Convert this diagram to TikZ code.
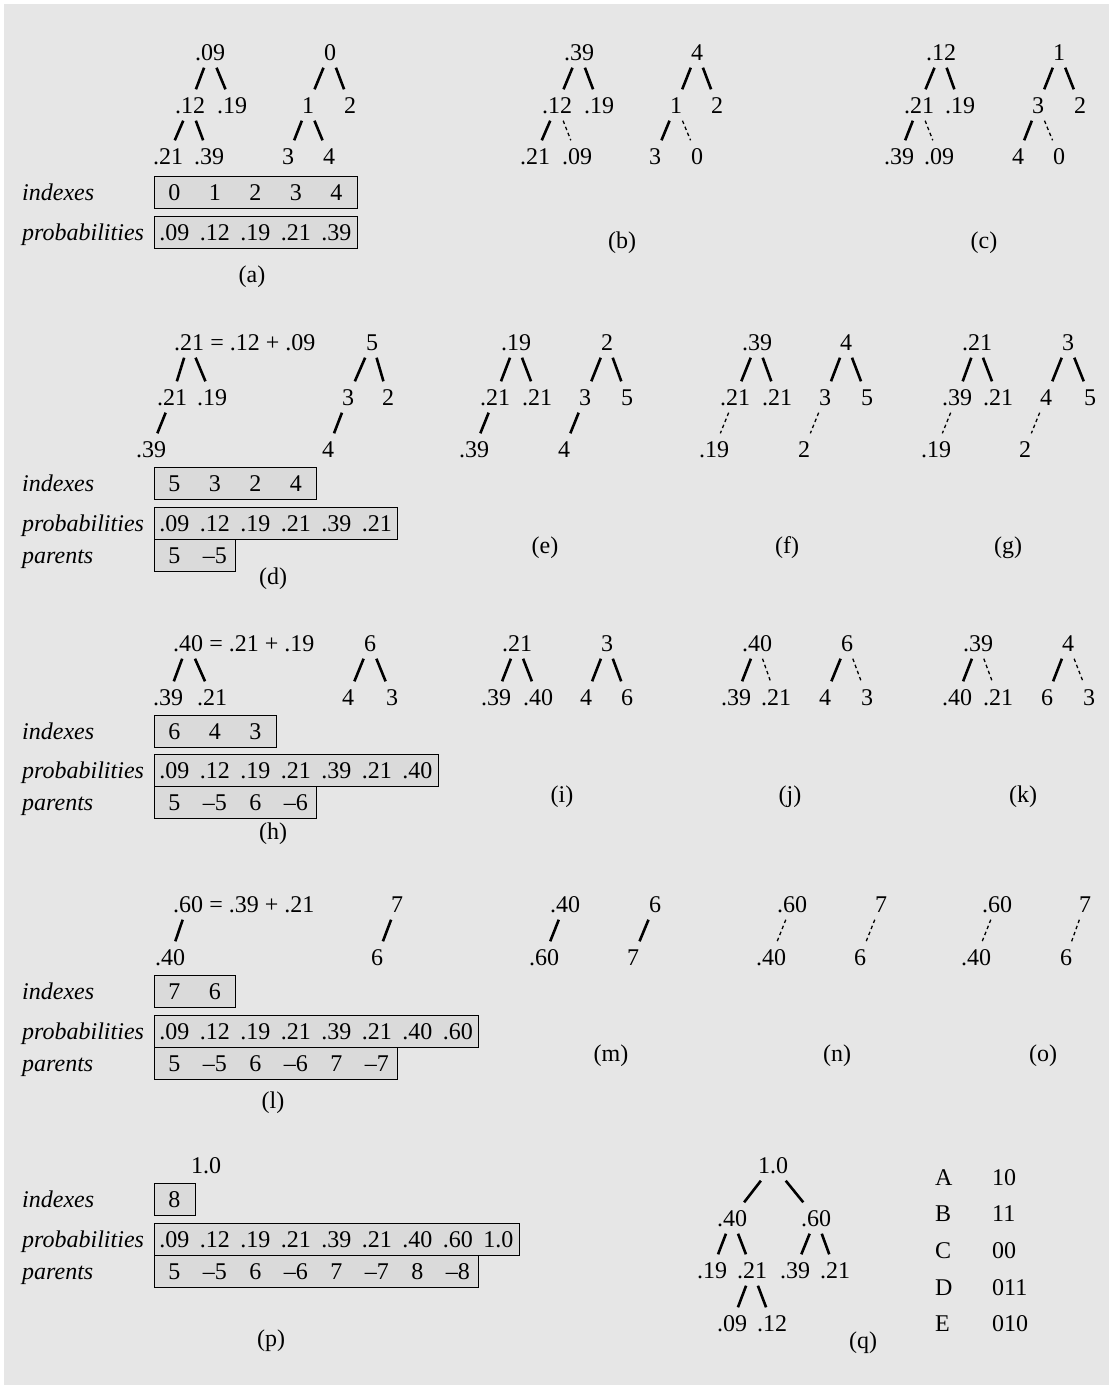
\documentclass[tikz,border=0pt]{standalone}
\usepackage{fontspec}
\setmainfont{Liberation Serif}
\newcommand\myfs{\fontsize{24}{28}\selectfont}
\definecolor{bgc}{RGB}{230,230,230}
\definecolor{boxfill}{RGB}{218,218,218}
\tikzset{
  val/.style={font=\myfs, inner sep=0pt, text height=16pt, text depth=0pt, minimum height=31pt, minimum width=20pt},
  sol/.style={line width=2.6pt},
  dsh/.style={line width=1.3pt, dash pattern=on 3.5pt off 3pt},
  sublbl/.style={font=\myfs, inner sep=0pt},
  abox/.style={draw, line width=1.3pt, fill=boxfill, inner sep=0pt, minimum height=32pt, anchor=north west},
  rowlbl/.style={font=\myfs\itshape, inner sep=0pt, anchor=base west},
  eqtxt/.style={font=\myfs, inner sep=0pt, anchor=base west}
}
% #1 name, #2 top y, #3 number of cells, #4 values
\newcommand\arrrow[4]{%
  \node[abox, minimum width={40.5*#3}] (#1) at (154,#2) {};
  \foreach \t [count=\i] in {#4} \node[val] (#1\i) at ({154+40.5*\i-20.25},{#2+16}) {\t};
}
\begin{document}
\begin{tikzpicture}[x=1pt,y=-1pt]
\useasboundingbox (0,0) rectangle (1109,1385);
\fill[white] (0,0) rectangle (1109,1385);
\fill[bgc] (4,4) rectangle (1109,1385);

% ---------------- (a)
\node[val] (a0) at (210,52) {.09};
\node[val] (a1) at (190,105) {.12};
\node[val] (a2) at (232,105) {.19};
\node[val] (a3) at (168,156) {.21};
\node[val] (a4) at (209,156) {.39};
\draw[sol] (a0)--(a1) (a0)--(a2) (a1)--(a3) (a1)--(a4);
\node[val] (ai0) at (330,52) {0};
\node[val] (ai1) at (308,105) {1};
\node[val] (ai2) at (350,105) {2};
\node[val] (ai3) at (288,156) {3};
\node[val] (ai4) at (329,156) {4};
\draw[sol] (ai0)--(ai1) (ai0)--(ai2) (ai1)--(ai3) (ai1)--(ai4);
\arrrow{aI}{176}{5}{0,1,2,3,4}
\arrrow{aP}{216}{5}{.09,.12,.19,.21,.39}
\node[rowlbl] (aIl) at (22,200) {indexes};
\node[rowlbl] (aPl) at (22,240) {probabilities};
\node[sublbl] (la) at (252,277) {(a)};

% ---------------- (b)
\node[val] (b0) at (579,52) {.39};
\node[val] (b1) at (557,105) {.12};
\node[val] (b2) at (599,105) {.19};
\node[val] (b3) at (535,156) {.21};
\node[val] (b4) at (577,156) {.09};
\draw[sol] (b0)--(b1) (b0)--(b2) (b1)--(b3);
\draw[dsh] (b1)--(b4);
\node[val] (bi0) at (697,52) {4};
\node[val] (bi1) at (676,105) {1};
\node[val] (bi2) at (717,105) {2};
\node[val] (bi3) at (655,156) {3};
\node[val] (bi4) at (697,156) {0};
\draw[sol] (bi0)--(bi1) (bi0)--(bi2) (bi1)--(bi3);
\draw[dsh] (bi1)--(bi4);
\node[sublbl] (lb) at (622,243) {(b)};

% ---------------- (c)
\node[val] (c0) at (941,52) {.12};
\node[val] (c1) at (919,105) {.21};
\node[val] (c2) at (960,105) {.19};
\node[val] (c3) at (899,156) {.39};
\node[val] (c4) at (939,156) {.09};
\draw[sol] (c0)--(c1) (c0)--(c2) (c1)--(c3);
\draw[dsh] (c1)--(c4);
\node[val] (ci0) at (1059,52) {1};
\node[val] (ci1) at (1038,105) {3};
\node[val] (ci2) at (1080,105) {2};
\node[val] (ci3) at (1018,156) {4};
\node[val] (ci4) at (1059,156) {0};
\draw[sol] (ci0)--(ci1) (ci0)--(ci2) (ci1)--(ci3);
\draw[dsh] (ci1)--(ci4);
\node[sublbl] (lc) at (984,243) {(c)};

% ---------------- (d)
\node[val] (d0) at (189,342) {.21};
\node[eqtxt] (d0eq) at (d0.base east) {\ = .12 + .09};
\node[val] (d1) at (172,397) {.21};
\node[val] (d2) at (212,397) {.19};
\node[val] (d3) at (151,449) {.39};
\draw[sol] (d0)--(d1) (d0)--(d2) (d1)--(d3);
\node[val] (di0) at (372,342) {5};
\node[val] (di1) at (348,397) {3};
\node[val] (di2) at (388,397) {2};
\node[val] (di3) at (328,449) {4};
\draw[sol] (di0)--(di1) (di0)--(di2) (di1)--(di3);
\arrrow{dI}{467}{4}{5,3,2,4}
\arrrow{dP}{507}{6}{.09,.12,.19,.21,.39,.21}
\arrrow{dA}{539}{2}{5,–5}
\node[rowlbl] (dIl) at (22,491) {indexes};
\node[rowlbl] (dPl) at (22,531) {probabilities};
\node[rowlbl] (dAl) at (22,563) {parents};
\node[sublbl] (ld) at (273,579) {(d)};

% ---------------- (e)
\node[val] (e0) at (516,342) {.19};
\node[val] (e1) at (495,397) {.21};
\node[val] (e2) at (537,397) {.21};
\node[val] (e3) at (474,449) {.39};
\draw[sol] (e0)--(e1) (e0)--(e2) (e1)--(e3);
\node[val] (ei0) at (607,342) {2};
\node[val] (ei1) at (585,397) {3};
\node[val] (ei2) at (627,397) {5};
\node[val] (ei3) at (564,449) {4};
\draw[sol] (ei0)--(ei1) (ei0)--(ei2) (ei1)--(ei3);
\node[sublbl] (le) at (545,548) {(e)};

% ---------------- (f)
\node[val] (f0) at (757,342) {.39};
\node[val] (f1) at (735,397) {.21};
\node[val] (f2) at (777,397) {.21};
\node[val] (f3) at (714,449) {.19};
\draw[sol] (f0)--(f1) (f0)--(f2);
\draw[dsh] (f1)--(f3);
\node[val] (fi0) at (846,342) {4};
\node[val] (fi1) at (825,397) {3};
\node[val] (fi2) at (867,397) {5};
\node[val] (fi3) at (804,449) {2};
\draw[sol] (fi0)--(fi1) (fi0)--(fi2);
\draw[dsh] (fi1)--(fi3);
\node[sublbl] (lf) at (787,548) {(f)};

% ---------------- (g)
\node[val] (g0) at (977,342) {.21};
\node[val] (g1) at (957,397) {.39};
\node[val] (g2) at (998,397) {.21};
\node[val] (g3) at (936,449) {.19};
\draw[sol] (g0)--(g1) (g0)--(g2);
\draw[dsh] (g1)--(g3);
\node[val] (gi0) at (1068,342) {3};
\node[val] (gi1) at (1046,397) {4};
\node[val] (gi2) at (1090,397) {5};
\node[val] (gi3) at (1025,449) {2};
\draw[sol] (gi0)--(gi1) (gi0)--(gi2);
\draw[dsh] (gi1)--(gi3);
\node[sublbl] (lg) at (1008,548) {(g)};

% ---------------- (h)
\node[val] (h0) at (188,643) {.40};
\node[eqtxt] (h0eq) at (h0.base east) {\ = .21 + .19};
\node[val] (h1) at (168,697) {.39};
\node[val] (h2) at (212,697) {.21};
\draw[sol] (h0)--(h1) (h0)--(h2);
\node[val] (hi0) at (370,643) {6};
\node[val] (hi1) at (348,697) {4};
\node[val] (hi2) at (392,697) {3};
\draw[sol] (hi0)--(hi1) (hi0)--(hi2);
\arrrow{hI}{715}{3}{6,4,3}
\arrrow{hP}{754}{7}{.09,.12,.19,.21,.39,.21,.40}
\arrrow{hA}{786}{4}{5,–5,6,–6}
\node[rowlbl] (hIl) at (22,739) {indexes};
\node[rowlbl] (hPl) at (22,778) {probabilities};
\node[rowlbl] (hAl) at (22,810) {parents};
\node[sublbl] (lh) at (273,834) {(h)};

% ---------------- (i)
\node[val] (i0) at (517,643) {.21};
\node[val] (i1) at (496,697) {.39};
\node[val] (i2) at (538,697) {.40};
\draw[sol] (i0)--(i1) (i0)--(i2);
\node[val] (ii0) at (607,643) {3};
\node[val] (ii1) at (586,697) {4};
\node[val] (ii2) at (627,697) {6};
\draw[sol] (ii0)--(ii1) (ii0)--(ii2);
\node[sublbl] (li) at (562,797) {(i)};

% ---------------- (j)
\node[val] (j0) at (757,643) {.40};
\node[val] (j1) at (736,697) {.39};
\node[val] (j2) at (776,697) {.21};
\draw[sol] (j0)--(j1);
\draw[dsh] (j0)--(j2);
\node[val] (ji0) at (847,643) {6};
\node[val] (ji1) at (825,697) {4};
\node[val] (ji2) at (867,697) {3};
\draw[sol] (ji0)--(ji1);
\draw[dsh] (ji0)--(ji2);
\node[sublbl] (lj) at (790,797) {(j)};

% ---------------- (k)
\node[val] (k0) at (978,643) {.39};
\node[val] (k1) at (957,697) {.40};
\node[val] (k2) at (998,697) {.21};
\draw[sol] (k0)--(k1);
\draw[dsh] (k0)--(k2);
\node[val] (ki0) at (1068,643) {4};
\node[val] (ki1) at (1047,697) {6};
\node[val] (ki2) at (1089,697) {3};
\draw[sol] (ki0)--(ki1);
\draw[dsh] (ki0)--(ki2);
\node[sublbl] (lk) at (1023,797) {(k)};

% ---------------- (l)
\node[val] (l0) at (188,904) {.60};
\node[eqtxt] (l0eq) at (l0.base east) {\ = .39 + .21};
\node[val] (l1) at (170,957) {.40};
\draw[sol] (l0)--(l1);
\node[val] (li0) at (397,904) {7};
\node[val] (li1) at (377,957) {6};
\draw[sol] (li0)--(li1);
\arrrow{lI}{975}{2}{7,6}
\arrrow{lP}{1015}{8}{.09,.12,.19,.21,.39,.21,.40,.60}
\arrrow{lA}{1047}{6}{5,–5,6,–6,7,–7}
\node[rowlbl] (lIl) at (22,999) {indexes};
\node[rowlbl] (lPl) at (22,1039) {probabilities};
\node[rowlbl] (lAl) at (22,1071) {parents};
\node[sublbl] (ll) at (273,1103) {(l)};

% ---------------- (m)
\node[val] (m0) at (565,904) {.40};
\node[val] (m1) at (544,957) {.60};
\draw[sol] (m0)--(m1);
\node[val] (mi0) at (655,904) {6};
\node[val] (mi1) at (633,957) {7};
\draw[sol] (mi0)--(mi1);
\node[sublbl] (lm) at (611,1056) {(m)};

% ---------------- (n)
\node[val] (n0) at (792,904) {.60};
\node[val] (n1) at (771,957) {.40};
\draw[dsh] (n0)--(n1);
\node[val] (ni0) at (881,904) {7};
\node[val] (ni1) at (860,957) {6};
\draw[dsh] (ni0)--(ni1);
\node[sublbl] (ln) at (837,1056) {(n)};

% ---------------- (o)
\node[val] (o0) at (997,904) {.60};
\node[val] (o1) at (976,957) {.40};
\draw[dsh] (o0)--(o1);
\node[val] (oi0) at (1085,904) {7};
\node[val] (oi1) at (1066,957) {6};
\draw[dsh] (oi0)--(oi1);
\node[sublbl] (lo) at (1043,1056) {(o)};

% ---------------- (p)
\node[val] (p0) at (206,1165) {1.0};
\arrrow{pI}{1183}{1}{8}
\arrrow{pP}{1223}{9}{.09,.12,.19,.21,.39,.21,.40,.60,1.0}
\arrrow{pA}{1255}{8}{5,–5,6,–6,7,–7,8,–8}
\node[rowlbl] (pIl) at (22,1207) {indexes};
\node[rowlbl] (pPl) at (22,1247) {probabilities};
\node[rowlbl] (pAl) at (22,1279) {parents};
\node[sublbl] (lp) at (271,1341) {(p)};

% ---------------- (q)
\node[val] (q0) at (773,1165) {1.0};
\node[val] (q1) at (732,1218) {.40};
\node[val] (q2) at (816,1218) {.60};
\node[val] (q3) at (712,1270) {.19};
\node[val] (q4) at (752,1270) {.21};
\node[val] (q5) at (795,1270) {.39};
\node[val] (q6) at (835,1270) {.21};
\node[val] (q7) at (732,1323) {.09};
\node[val] (q8) at (772,1323) {.12};
\draw[sol] (q0)--(q1) (q0)--(q2) (q1)--(q3) (q1)--(q4) (q2)--(q5) (q2)--(q6) (q4)--(q7) (q4)--(q8);
\node[sublbl] (lq) at (863,1343) {(q)};
\node[eqtxt] (cA) at (935,1185) {A};
\node[eqtxt] (cB) at (935,1221) {B};
\node[eqtxt] (cC) at (935,1258) {C};
\node[eqtxt] (cD) at (935,1295) {D};
\node[eqtxt] (cE) at (935,1331) {E};
\node[eqtxt] (kA) at (992,1185) {10};
\node[eqtxt] (kB) at (992,1221) {11};
\node[eqtxt] (kC) at (992,1258) {00};
\node[eqtxt] (kD) at (992,1295) {011};
\node[eqtxt] (kE) at (992,1331) {010};
\end{tikzpicture}
\end{document}
